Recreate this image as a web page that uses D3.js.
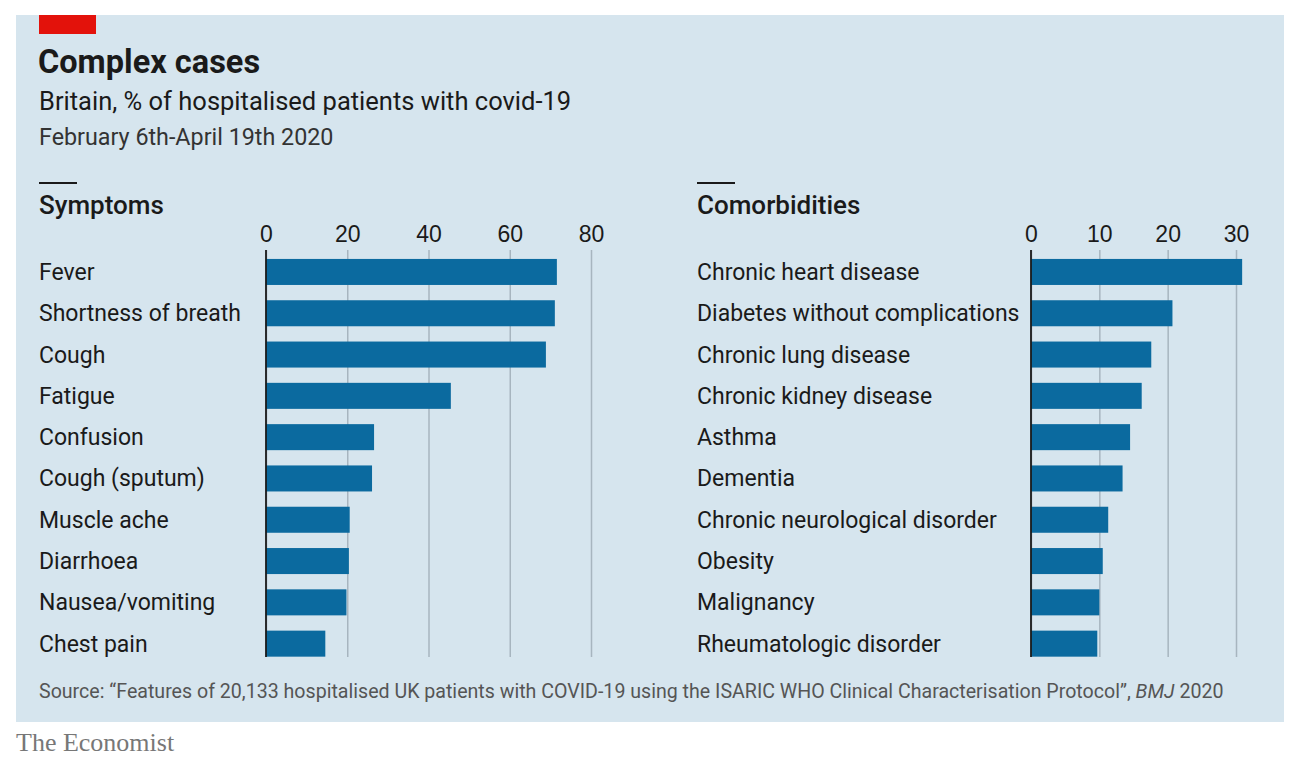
<!DOCTYPE html>
<html>
<head>
<meta charset="utf-8">
<script src="https://cdn.jsdelivr.net/npm/d3@7"></script>
<style>
  body { margin: 0; background: #ffffff; }
  svg { display: block; font-family: Roboto, "Noto Sans", sans-serif; }
  .tick text { font-size: 23px; fill: #1a1a1a; }
</style>
</head>
<body>
<div id="chart"></div>
<script>
// data (% of hospitalised patients)
const symptoms = ["Fever", "Shortness of breath", "Cough", "Fatigue", "Confusion",
  "Cough (sputum)", "Muscle ache", "Diarrhoea", "Nausea/vomiting", "Chest pain"];
const symptomValues = [71.6, 71.1, 68.9, 45.5, 26.6, 26.1, 20.6, 20.4, 19.8, 14.6];
const symptomTicks = [0, 20, 40, 60, 80];

const comorbidities = ["Chronic heart disease", "Diabetes without complications",
  "Chronic lung disease", "Chronic kidney disease", "Asthma", "Dementia",
  "Chronic neurological disorder", "Obesity", "Malignancy", "Rheumatologic disorder"];
const comorbidityValues = [30.9, 20.7, 17.6, 16.2, 14.5, 13.4, 11.3, 10.5, 10.0, 9.7];
const comorbidityTicks = [0, 10, 20, 30];

const W = 1300, H = 769;
const blue = "#0b6a9f", grid = "#a7b5bf", ink = "#1a1a1a";

const svg = d3.select("#chart").append("svg")
    .attr("width", W)
    .attr("height", H);

// background panel + red tag
svg.append("rect").attr("x", 16).attr("y", 15).attr("width", 1268).attr("height", 707)
    .attr("fill", "#d6e5ee");
svg.append("rect").attr("x", 39).attr("y", 15).attr("width", 57).attr("height", 19)
    .attr("fill", "#e3120b");

// titles
svg.append("text").attr("x", 38).attr("y", 73)
    .style("font-size", "32.5px").style("font-weight", 700).attr("fill", ink)
    .text("Complex cases");
svg.append("text").attr("x", 39).attr("y", 110)
    .style("font-size", "25.5px").attr("fill", ink)
    .text("Britain, % of hospitalised patients with covid-19");
svg.append("text").attr("x", 39).attr("y", 145)
    .style("font-size", "23.3px").attr("fill", "#333")
    .text("February 6th-April 19th 2020");

// one bar panel
function panel(cfg) {
    const x = d3.scaleLinear().domain(cfg.domain).range(cfg.range);
    const y = d3.scaleBand().domain(cfg.cats)
        .range([251.3, 664.3]).paddingInner(0.37).paddingOuter(0.185);
    const top = 250, bottom = 657;

    svg.append("line")
        .attr("x1", cfg.labelX).attr("x2", cfg.labelX + 38)
        .attr("y1", 183).attr("y2", 183)
        .attr("stroke", ink).attr("stroke-width", 2);
    svg.append("text").attr("x", cfg.labelX).attr("y", 214)
        .style("font-size", "26px").style("font-weight", 500).attr("fill", ink)
        .text(cfg.title);

    const axis = svg.append("g")
        .attr("transform", `translate(0,${top})`)
        .call(d3.axisTop(x).tickValues(cfg.ticks).tickSize(-(bottom - top)).tickPadding(8));
    axis.select(".domain").remove();
    axis.selectAll(".tick line").attr("stroke", grid).attr("stroke-width", 1.5);

    svg.append("g").selectAll("rect")
        .data(cfg.values)
        .join("rect")
        .attr("x", x(0))
        .attr("y", (d, i) => y(cfg.cats[i]))
        .attr("width", d => x(d) - x(0))
        .attr("height", y.bandwidth())
        .attr("fill", blue);

    svg.append("line")
        .attr("x1", x(0)).attr("x2", x(0))
        .attr("y1", top).attr("y2", bottom)
        .attr("stroke", ink).attr("stroke-width", 1.8);

    svg.append("g").selectAll("text")
        .data(cfg.cats)
        .join("text")
        .attr("x", cfg.labelX)
        .attr("y", d => y(d) + y.bandwidth() / 2 + 8)
        .style("font-size", "23px").attr("fill", ink)
        .text(d => d);
}

panel({ title: "Symptoms", cats: symptoms, values: symptomValues, ticks: symptomTicks,
    domain: [0, 80], range: [266, 591], labelX: 39 });
panel({ title: "Comorbidities", cats: comorbidities, values: comorbidityValues, ticks: comorbidityTicks,
    domain: [0, 30], range: [1031, 1236], labelX: 697 });

// source + brand
const src = svg.append("text").attr("x", 39).attr("y", 698)
    .style("font-size", "19.6px").attr("fill", "#555");
src.append("tspan").text("Source: \u201cFeatures of 20,133 hospitalised UK patients with COVID-19 using the ISARIC WHO Clinical Characterisation Protocol\u201d, ");
src.append("tspan").style("font-style", "italic").text("BMJ");
src.append("tspan").text(" 2020");

svg.append("text").attr("x", 16).attr("y", 751)
    .style("font-family", "'Liberation Serif', 'DejaVu Serif', serif")
    .style("font-size", "26px").attr("fill", "#777")
    .text("The Economist");
</script>
</body>
</html>
